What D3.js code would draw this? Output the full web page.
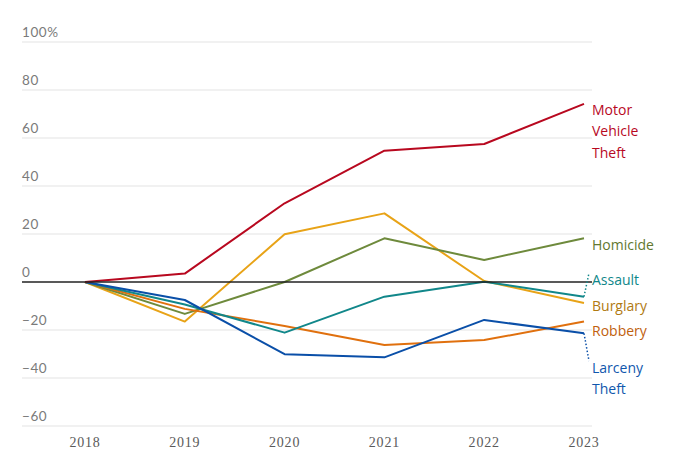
<!DOCTYPE html>
<html><head><meta charset="utf-8">
<script src="https://cdn.jsdelivr.net/npm/d3@7"></script>
<style>body{margin:0;background:#fff}svg{display:block}</style>
</head><body><svg id="c" width="690" height="474"></svg>
<script>
const years = [2018, 2019, 2020, 2021, 2022, 2023];
const yTicks = [-60, -40, -20, 0, 20, 40, 60, 80, 100];
const motorVehicleTheft = [0, 3.5, 32.8, 54.7, 57.5, 74.2];
const homicide = [0, -13.3, 0, 18.2, 9.2, 18.2];
const assault = [0, -9.4, -21.1, -6.1, 0.1, -6.1];
const burglary = [0, -16.5, 19.9, 28.6, 0.4, -8.75];
const robbery = [0, -11.2, -18.3, -26.25, -24.2, -16.5];
const larcenyTheft = [0, -7.5, -30.1, -31.4, -15.8, -21.4];

const series = [
  {name:"Burglary", values:burglary, line:"#e8a317", label:"#b07a12", lines:["Burglary"], ly:[306]},
  {name:"Homicide", values:homicide, line:"#6e8a3c", label:"#62782f", lines:["Homicide"], ly:[245]},
  {name:"Robbery", values:robbery, line:"#e0700e", label:"#c0600e", lines:["Robbery"], ly:[331]},
  {name:"Assault", values:assault, line:"#11878a", label:"#0f878a", lines:["Assault"], ly:[280]},
  {name:"Larceny Theft", values:larcenyTheft, line:"#0a4fa8", label:"#1057ad", lines:["Larceny","Theft"], ly:[368,389]},
  {name:"Motor Vehicle Theft", values:motorVehicleTheft, line:"#b8081f", label:"#b8081f", lines:["Motor","Vehicle","Theft"], ly:[110,131,153]}
];

const svg = d3.select("#c");
const x = d3.scaleLinear().domain([2018, 2023]).range([85, 584]);
const y = d3.scaleLinear().domain([-60, 100]).range([426, 42]);

const g = svg.append("g");
g.selectAll("line.grid").data(yTicks.filter(d=>d!==0)).join("line")
  .attr("x1", 22).attr("x2", 592)
  .attr("y1", d=>y(d)).attr("y2", d=>y(d))
  .attr("stroke", "#e3e3e3").attr("stroke-width", 1);
g.selectAll("text.tick").data(yTicks).join("text")
  .attr("x", 22).attr("y", d=>y(d)-5)
  .attr("font-family", "Lato, 'Open Sans', sans-serif")
  .attr("font-size", 13.5).attr("fill", "#7a7a7a")
  .attr("letter-spacing", 0.6)
  .text(d => d===100 ? "100%" : (d<0 ? "\u2212"+Math.abs(d) : d));

svg.append("g").selectAll("text").data(years).join("text")
  .attr("x", d=>x(d)).attr("y", 447)
  .attr("text-anchor","middle")
  .attr("font-family","'Liberation Serif', 'DejaVu Serif', serif")
  .attr("font-size", 14).attr("fill", "#5a5a5a").attr("letter-spacing", 0.8)
  .text(d=>d);

const line = d3.line().x((d,i)=>x(years[i])).y(d=>y(d));
svg.append("g").selectAll("path").data(series).join("path")
  .attr("d", d=>line(d.values))
  .attr("fill","none").attr("stroke", d=>d.line).attr("stroke-width", 2)
  .attr("stroke-linejoin","round");

svg.append("line").attr("x1",22).attr("x2",592).attr("y1",y(0)).attr("y2",y(0))
  .attr("stroke","#222").attr("stroke-width",1.3);

const last = years[years.length-1];
svg.append("line").attr("x1", x(last)).attr("y1", y(assault[5]))
  .attr("x2", x(last)+5).attr("y2", 273)
  .attr("stroke","#11878a").attr("stroke-width",1.5).attr("stroke-dasharray","1.5,2");
svg.append("line").attr("x1", x(last)).attr("y1", y(larcenyTheft[5]))
  .attr("x2", x(last)+5).attr("y2", 361)
  .attr("stroke","#0a4fa8").attr("stroke-width",1.5).attr("stroke-dasharray","1.5,2");

const lg = svg.append("g");
series.forEach(s=>{
  s.lines.forEach((t,i)=>{
    lg.append("text").attr("x",592).attr("y",s.ly[i]+5)
      .attr("font-family","'Open Sans', Lato, sans-serif")
      .attr("font-size",14).attr("fill",s.label).text(t);
  });
});
</script></body></html>
